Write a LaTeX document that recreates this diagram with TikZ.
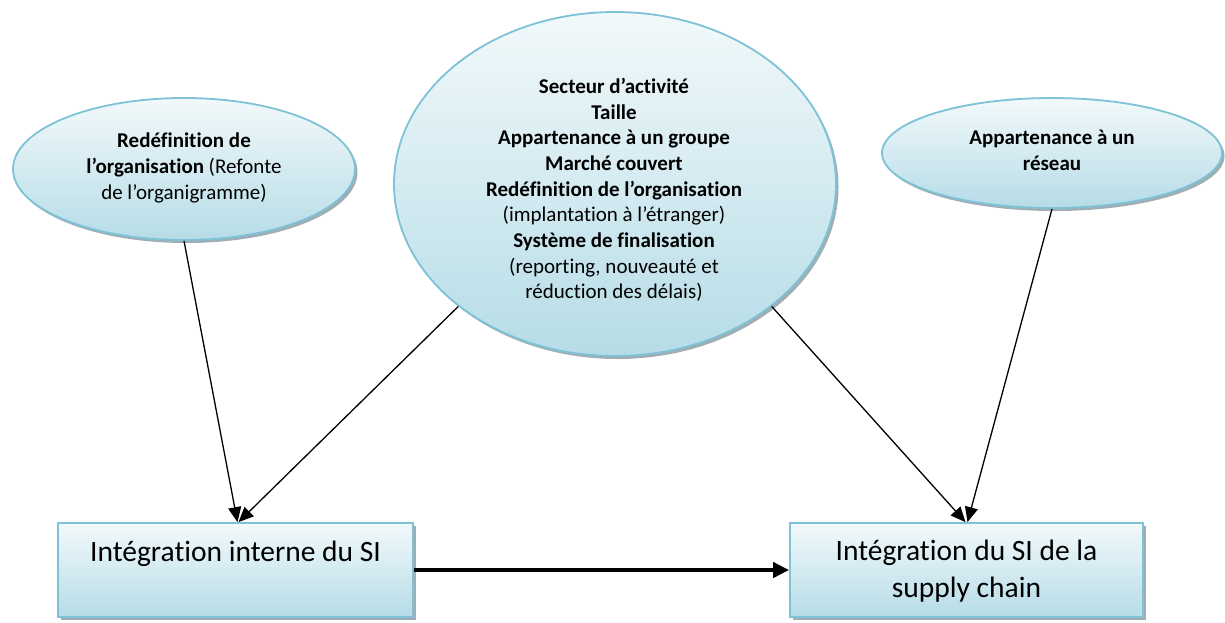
\documentclass[tikz,border=0pt]{standalone}
\usepackage{fontspec}
\setmainfont[Ligatures=NoCommon,RawFeature={-liga;-clig;-calt;-dlig}]{Carlito}
\usetikzlibrary{shapes.geometric,shadows,arrows.meta}
\definecolor{bordblue}{RGB}{125,194,214}
\definecolor{toplight}{RGB}{242,249,251}
\definecolor{botblue}{RGB}{182,220,231}
\definecolor{shadowgray}{RGB}{150,165,172}
\tikzset{
  oval/.style={ellipse, draw=bordblue, line width=1.8pt, inner sep=0pt,
    top color=toplight, bottom color=botblue,
    drop shadow={shadow xshift=2.5pt, shadow yshift=-3pt, fill=shadowgray, opacity=0.9}},
  boxnode/.style={rectangle, draw=bordblue, line width=1.8pt, inner sep=0pt,
    top color=toplight, bottom color=botblue,
    drop shadow={shadow xshift=2.5pt, shadow yshift=-3pt, fill=shadowgray, opacity=0.9}},
  smalltxt/.style={align=center, font=\fontsize{21}{25.7}\selectfont, inner sep=0pt},
  bigtxt/.style={align=center, font=\fontsize{29.5}{37}\selectfont, inner sep=0pt},
  thinarrow/.style={line width=1.3pt, -{Triangle[length=15pt,width=13pt]}},
  thickarrow/.style={line width=4pt, -{Triangle[length=16pt,width=15pt]}}
}
\begin{document}
\begin{tikzpicture}[x=1pt,y=-1pt]
\useasboundingbox (0,0) rectangle (1225,622);
% ellipses
\node[oval, minimum width=342pt, minimum height=142pt] (e1) at (184,169) {};
\node[oval, minimum width=442pt, minimum height=344pt] (e2) at (615,184) {};
\node[oval, minimum width=340pt, minimum height=110pt] (e3) at (1052,153) {};
\node[smalltxt] (t1) at (184,168) {\textbf{Redéfinition de}\\\textbf{l’organisation} (Refonte\\de l’organigramme)};
\node[smalltxt] (t2) at (614,190) {\textbf{Secteur d’activité}\\\textbf{Taille}\\\textbf{Appartenance à un groupe}\\\textbf{Marché couvert}\\\textbf{Redéfinition de l’organisation}\\(implantation à l’étranger)\\\textbf{Système de finalisation}\\(reporting, nouveauté et\\réduction des délais)};
\node[smalltxt] (t3) at (1052,150) {\textbf{Appartenance à un}\\\textbf{réseau}};
% boxes
\node[boxnode, minimum width=355pt, minimum height=94pt] (b1) at (235.5,570) {};
\node[boxnode, minimum width=353pt, minimum height=94pt] (b2) at (966.5,570) {};
\node[bigtxt] (bt1) at (235.5,554) {Intégration interne du SI};
\node[bigtxt] (bt2) at (966.5,571) {Intégration du SI de la\\supply chain};
% connectors
\draw[thinarrow] (e1.south) -- ([xshift=2pt]b1.north);
\draw[thinarrow] (e2.218) -- ([xshift=3pt]b1.north);
\draw[thinarrow] (e2.322) -- ([xshift=-1pt]b2.north);
\draw[thinarrow] (e3.south) -- ([xshift=1pt]b2.north);
\draw[thickarrow] (b1.east) -- (b2.west);
\end{tikzpicture}
\end{document}
